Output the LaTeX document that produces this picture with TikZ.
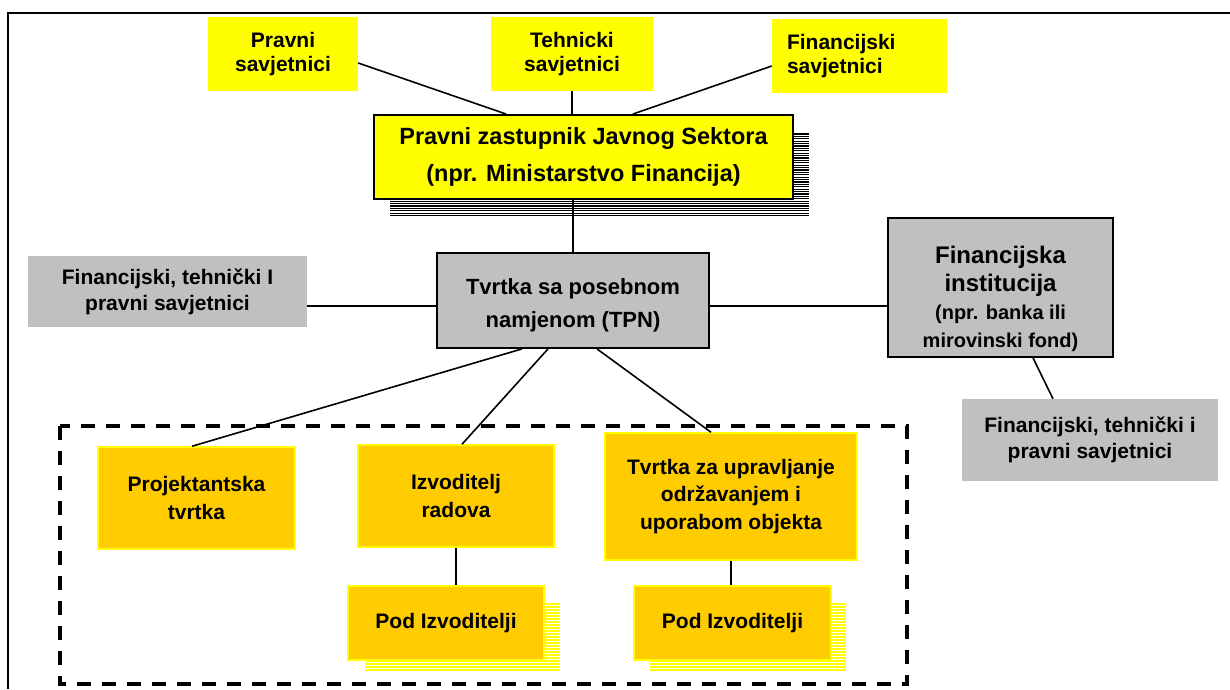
\documentclass[tikz,border=0pt]{standalone}
\usepackage{fontspec}
\setmainfont{Liberation Sans}
\definecolor{boxyellow}{HTML}{FFFF00}
\definecolor{boxgold}{HTML}{FFCC00}
\definecolor{boxgray}{HTML}{C0C0C0}

\begin{document}
\begin{tikzpicture}[x=1pt,y=-1pt]
		\tikzset{advisor/.style = {fill=boxyellow, align=center, inner sep=0pt, minimum height=74pt, font=\bfseries\fontsize{21}{24}\selectfont}}
		\tikzset{graybox/.style = {fill=boxgray, align=center, inner sep=0pt, font=\bfseries\fontsize{21}{26}\selectfont}}
		\tikzset{goldbox/.style = {fill=boxgold, draw=boxyellow, line width=1.5pt, align=center, inner sep=0pt, font=\bfseries\fontsize{21}{27.5}\selectfont}}
		\tikzset{edge/.style = {line width=1.6pt}}

		\useasboundingbox (0,0) rectangle (1230,689);
		\draw[line width=2pt] (1230,13) -- (8,13) -- (8,689);

		% advisors on top
		\node[advisor, minimum width=150pt] (Sav_1) at (283,54) {Pravni\\savjetnici};
		\node[advisor, minimum width=162pt] (Sav_2) at (572,54) {Tehnicki\\savjetnici};
		\node[advisor, text width=145pt, inner xsep=15pt, align=left] (Sav_3) at (859.5,56) {Financijski\\savjetnici};

		% striped shadow
		\foreach \y in {134,136.4,...,216} \draw[line width=1.2pt] (390,\y) -- (809,\y);

		\node[fill=boxyellow, draw, line width=2pt, align=center, minimum width=419pt, minimum height=84pt, inner sep=0pt,
			font=\bfseries\fontsize{23.5}{37}\selectfont] (PZJS) at (583.5,157) {Pravni zastupnik Javnog Sektora\\(npr. Ministarstvo Financija)};

		\node[fill=boxgray, draw, line width=1.8pt, align=center, minimum width=272pt, minimum height=95pt, inner sep=0pt,
			font=\bfseries\fontsize{22}{33}\selectfont] (TPN) at (573,300.5) {\rule{0pt}{26pt}Tvrtka sa posebnom\\namjenom (TPN)};

		\node[graybox, minimum width=279pt, minimum height=71pt] (Sav_4) at (167.5,291.5) {Financijski, tehnički I\\pravni savjetnici};

		\node[fill=boxgray, draw, line width=1.8pt, align=center, minimum width=225pt, minimum height=139pt, inner sep=0pt,
			font=\bfseries\fontsize{24}{28}\selectfont] (FI) at (1000.5,287.5) {\rule{0pt}{40pt}Financijska\\institucija\\\fontsize{20}{27}\selectfont(npr. banka ili\\\fontsize{20}{27}\selectfont mirovinski fond)};

		\node[graybox, minimum width=256pt, minimum height=82pt] (Sav_5) at (1090,440) {Financijski, tehnički i\\pravni savjetnici};

		\draw[edge] ([yshift=-9pt]Sav_1.east) to ([xshift=-77.5pt]PZJS.north);
		\draw[edge] (Sav_2.south) to (Sav_2.south |- PZJS.north);
		\draw[edge] ([yshift=-10pt]Sav_3.west) to ([xshift=49.5pt]PZJS.north);
		\draw[edge] (TPN.north) to (TPN.north |- PZJS.south);
		\draw[edge] ([yshift=-14.5pt]Sav_4.east) to ([yshift=-5.5pt]TPN.west);
		\draw[edge] ([yshift=-5.5pt]TPN.east) to ([yshift=-18.5pt]FI.west);
		\draw[edge] ([xshift=32.5pt]FI.south) to ([xshift=-37pt]Sav_5.north);

		% project group
		\draw[line width=3.5pt, dash pattern=on 14pt off 11pt] (60,426) rectangle (907,684);

		\node[goldbox, minimum width=197pt, minimum height=102pt] (Proj) at (196.5,498) {Projektantska\\tvrtka};
		\node[goldbox, minimum width=196pt, minimum height=102pt] (Izv) at (456,496) {Izvoditelj\\radova};
		\node[goldbox, minimum width=252pt, minimum height=127pt] (Upr) at (731,496.5) {Tvrtka za upravljanje\\održavanjem i\\uporabom objekta};

		\foreach \y in {604,607,...,672} \draw[boxyellow, line width=1.5pt] (365,\y) -- (560,\y);
		\foreach \y in {604,607,...,672} \draw[boxyellow, line width=1.5pt] (650,\y) -- (846,\y);

		\node[goldbox, minimum width=196pt, minimum height=74pt] (Pod_1) at (446,623) {Pod Izvoditelji};
		\node[goldbox, minimum width=197pt, minimum height=74pt] (Pod_2) at (732.5,623) {Pod Izvoditelji};

		\draw[edge] ([xshift=-51pt]TPN.south) to ([xshift=-4.5pt]Proj.north);
		\draw[edge] ([xshift=-25pt]TPN.south) to ([xshift=6pt]Izv.north);
		\draw[edge] ([xshift=24pt]TPN.south) to ([xshift=-20pt]Upr.north);
		\draw[edge] (Izv.south) to (Izv.south |- Pod_1.north);
		\draw[edge] (Upr.south) to (Upr.south |- Pod_2.north);


	\end{tikzpicture}
\end{document}
